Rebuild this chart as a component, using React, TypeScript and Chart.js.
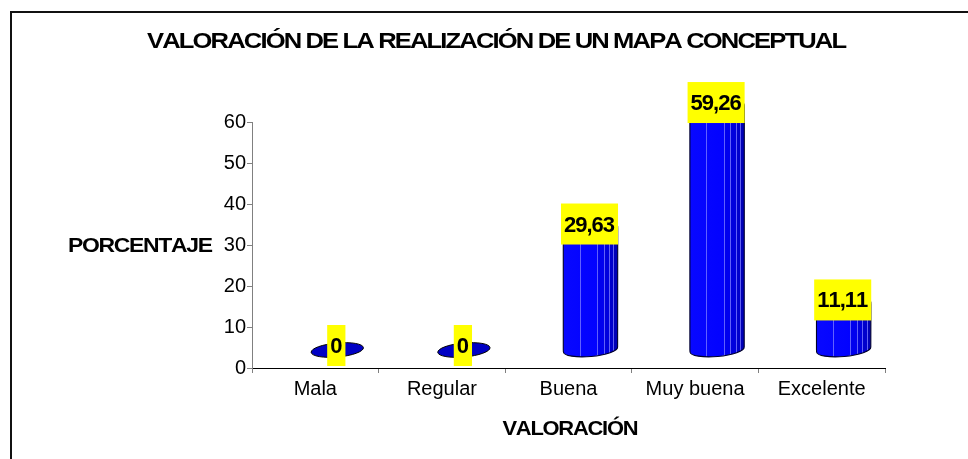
import React, { useEffect, useRef } from "react";
import { Chart, registerables } from "chart.js";

Chart.register(...registerables);

// ---- data ----
const categories = ["Mala", "Regular", "Buena", "Muy buena", "Excelente"];
const percentages = [0, 0, 29.63, 59.26, 11.11];
const yMin = 0;
const yMax = 60;
const yStep = 10;
const chartTitle = "VALORACIÓN DE LA REALIZACIÓN DE UN MAPA CONCEPTUAL";
const yAxisTitle = "PORCENTAJE";
const xAxisTitle = "VALORACIÓN";

const FONT = '"Liberation Sans", Arial, Helvetica, sans-serif';
const DEPTH_X = 22;
const DEPTH_Y = 18;
const RY = 7;
const TILT = -0.09;

const fmt = (v: number) => String(v).replace(".", ",");

// draw text char by char with custom spacing, fitted to a target width (if given)
function drawSpaced(
  ctx: CanvasRenderingContext2D,
  text: string,
  x: number,
  y: number,
  spacing: number,
  align: "left" | "center" | "right",
  targetWidth?: number
) {
  const chars = Array.from(text);
  const widths = chars.map((c) => ctx.measureText(c).width);
  const natural =
    widths.reduce((a, b) => a + b, 0) + spacing * (chars.length - 1);
  const sx = targetWidth ? targetWidth / natural : 1;
  const total = natural * sx;
  let start = x;
  if (align === "center") start = x - total / 2;
  else if (align === "right") start = x - total;
  ctx.save();
  ctx.translate(start, y);
  ctx.scale(sx, 1);
  ctx.textAlign = "left";
  let cx = 0;
  chars.forEach((c, i) => {
    ctx.fillText(c, cx, 0);
    cx += widths[i] + spacing;
  });
  ctx.restore();
  return total;
}

const cylinderPlugin = {
  id: "cylinders",
  afterDatasetsDraw(chart: any) {
    const ctx: CanvasRenderingContext2D = chart.ctx;
    const meta = chart.getDatasetMeta(0);
    const items: any[] = [];
    meta.data.forEach((el: any, i: number) => {
      const { x, y, base, width } = el.getProps(["x", "y", "base", "width"], true);
      const cx = x + DEPTH_X;
      const rx = width / 2;
      const yb = base - DEPTH_Y;
      const yt = y - DEPTH_Y;
      items.push({ cx, y, v: percentages[i] });
      ctx.save();
      if (percentages[i] <= 0) {
        ctx.beginPath();
        ctx.ellipse(cx, yb, rx - 1, RY, TILT, 0, Math.PI * 2);
        ctx.fillStyle = "#0000C4";
        ctx.fill();
        ctx.strokeStyle = "#000000";
        ctx.lineWidth = 1;
        ctx.stroke();
      } else {
        const path = new Path2D();
        path.moveTo(cx - rx, yt);
        path.lineTo(cx - rx, yb);
        path.ellipse(cx, yb, rx, RY, TILT, Math.PI, 0, true);
        path.lineTo(cx + rx, yt);
        path.ellipse(cx, yt, rx, RY, TILT, 0, Math.PI, true);
        path.closePath();
        const g = ctx.createLinearGradient(cx - rx, 0, cx + rx, 0);
        g.addColorStop(0, "#0808FF");
        g.addColorStop(0.62, "#0202FF");
        g.addColorStop(0.62, "#0000EE");
        g.addColorStop(0.74, "#0000EE");
        g.addColorStop(0.74, "#0000DD");
        g.addColorStop(0.84, "#0000DD");
        g.addColorStop(0.84, "#0000CC");
        g.addColorStop(0.92, "#0000CC");
        g.addColorStop(0.92, "#0000B8");
        g.addColorStop(1, "#0000B8");
        ctx.fillStyle = g;
        ctx.fill(path);
        ctx.save();
        ctx.clip(path);
        ctx.strokeStyle = "rgba(120,120,255,0.8)";
        ctx.lineWidth = 1;
        [0.3, 0.62, 0.74, 0.84, 0.92].forEach((f) => {
          const lx = Math.round(cx - rx + f * 2 * rx) + 0.5;
          ctx.beginPath();
          ctx.moveTo(lx, yt - 20);
          ctx.lineTo(lx, yb + 20);
          ctx.stroke();
        });
        ctx.restore();
        ctx.strokeStyle = "#00002A";
        ctx.lineWidth = 1.1;
        ctx.stroke(path);
      }
      ctx.restore();
    });
    // value labels
    ctx.save();
    ctx.font = `bold 22px ${FONT}`;
    ctx.fillStyle = "#000000";
    ctx.textBaseline = "alphabetic";
    items.forEach(({ cx, y, v }) => {
      const t = fmt(v);
      const chars = Array.from(t);
      const sp = -1;
      const tw =
        chars.reduce((a, c) => a + ctx.measureText(c).width, 0) +
        sp * (chars.length - 1);
      const w = tw + 6;
      const h = 41;
      const bx = cx - 1 - w / 2;
      const bottom = y - 2;
      ctx.fillStyle = "#FFFF00";
      ctx.fillRect(bx, bottom - h, w, h);
      ctx.fillStyle = "#000000";
      drawSpaced(ctx, t, cx - 1, bottom - 13, sp, "center");
    });
    ctx.restore();
  },
  afterDraw(chart: any) {
    const ctx: CanvasRenderingContext2D = chart.ctx;
    const area = chart.chartArea;
    ctx.save();
    // frame
    ctx.fillStyle = "#111111";
    ctx.fillRect(10, 11, chart.width - 10, 2);
    ctx.fillRect(10, 11, 2, chart.height - 11);
    ctx.fillStyle = "#000000";
    ctx.textBaseline = "alphabetic";
    // main title, fitted to width
    ctx.font = `bold 22px ${FONT}`;
    drawSpaced(ctx, chartTitle, 497, 48, -1.6, "center", 700);
    // y axis title
    ctx.font = `bold 21px ${FONT}`;
    drawSpaced(
      ctx,
      yAxisTitle,
      area.left - 39,
      (area.top + area.bottom) / 2 + 7,
      -1.2,
      "right",
      145
    );
    // x axis title
    ctx.font = `bold 21px ${FONT}`;
    drawSpaced(
      ctx,
      xAxisTitle,
      (area.left + area.right) / 2 + 2,
      area.bottom + 67,
      -1.2,
      "center",
      136
    );
    ctx.restore();
  },
};

export default function App() {
  const ref = useRef<HTMLCanvasElement | null>(null);
  useEffect(() => {
    if (!ref.current) return;
    const chart = new Chart(ref.current, {
      type: "bar",
      data: {
        labels: categories,
        datasets: [
          {
            data: percentages,
            backgroundColor: "rgba(0,0,0,0)",
            borderWidth: 0,
            barPercentage: 0.43,
            categoryPercentage: 1.0,
          },
        ],
      },
      options: {
        animation: false,
        responsive: false,
        devicePixelRatio: 1,
        layout: { padding: { top: 122, right: 83, left: 0, bottom: 0 } },
        plugins: {
          legend: { display: false },
          tooltip: { enabled: false },
          title: { display: false },
        },
        scales: {
          x: {
            grid: {
              display: true,
              drawOnChartArea: false,
              tickLength: 5,
              color: "#808080",
              offset: true,
            },
            border: { color: "#000000", width: 1 },
            ticks: {
              font: { family: FONT, size: 20 },
              color: "#000000",
              padding: 4,
              maxRotation: 0,
              autoSkip: false,
            },
            afterFit: (s: any) => {
              s.height = 91;
            },
          },
          y: {
            min: yMin,
            max: yMax,
            grid: {
              drawOnChartArea: false,
              tickLength: 5,
              color: "#808080",
            },
            border: { color: "#808080", width: 1 },
            ticks: {
              stepSize: yStep,
              font: { family: FONT, size: 20 },
              color: "#000000",
              padding: 1,
            },
            afterFit: (s: any) => {
              s.width = 252;
            },
          },
        },
      },
      plugins: [cylinderPlugin],
    });
    return () => chart.destroy();
  }, []);
  return (
    <div
      style={{
        position: "fixed",
        left: 0,
        top: 0,
        width: 968,
        height: 459,
        background: "#ffffff",
      }}
    >
      <canvas ref={ref} width={968} height={459} />
    </div>
  );
}
